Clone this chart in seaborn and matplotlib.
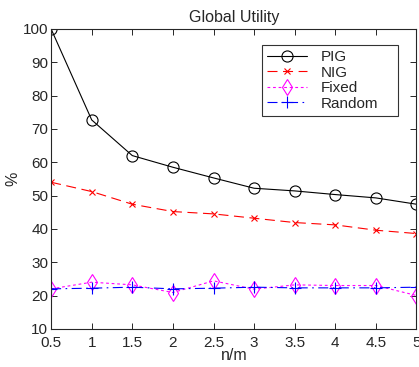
import matplotlib
matplotlib.use("Agg")
import matplotlib.pyplot as plt
import seaborn as sns
import pandas as pd

# data
n_over_m = [0.5, 1, 1.5, 2, 2.5, 3, 3.5, 4, 4.5, 5]
pig = [100, 72.7, 62.0, 58.5, 55.3, 52.2, 51.4, 50.3, 49.3, 47.4]
nig = [54.0, 51.2, 47.4, 45.2, 44.5, 43.2, 41.9, 41.2, 39.6, 38.6]
fixed = [22.0, 24.0, 23.2, 20.9, 24.4, 21.9, 23.2, 23.0, 23.0, 20.0]
random_ = [22.0, 22.2, 22.5, 22.0, 22.2, 22.5, 22.3, 22.3, 22.3, 22.5]

x_ticks = [0.5, 1, 1.5, 2, 2.5, 3, 3.5, 4, 4.5, 5]
x_tick_labels = ["0.5", "1", "1.5", "2", "2.5", "3", "3.5", "4", "4.5", "5"]
y_ticks = [10, 20, 30, 40, 50, 60, 70, 80, 90, 100]

sns.set_style("ticks")
plt.rcParams['font.family'] = ['Liberation Sans', 'DejaVu Sans']
plt.rcParams['xtick.direction'] = 'in'
plt.rcParams['ytick.direction'] = 'in'

fig = plt.figure(figsize=(4.19, 3.67), dpi=100)
ax = fig.add_axes([0.122, 0.104, 0.872, 0.817])

series = [
    ("PIG", pig, "black", "-", "o", 8),
    ("NIG", nig, "red", (0, (9, 5)), "x", 5),
    ("Fixed", fixed, "magenta", (0, (2.5, 2.5)), "d", 8),
    ("Random", random_, "blue", (0, (9, 4, 1.5, 4)), "+", 9),
]
for name, vals, color, ls, mk, ms in series:
    df = pd.DataFrame({"n/m": n_over_m, "val": vals})
    sns.lineplot(data=df, x="n/m", y="val", ax=ax, color=color, linestyle=ls,
                 marker=mk, markersize=ms, markerfacecolor="none",
                 markeredgecolor=color, markeredgewidth=0.8, linewidth=0.8,
                 label=name)

ax.set_xlim(0.5, 5)
ax.set_ylim(10, 100)
ax.set_xticks(x_ticks)
ax.set_xticklabels(x_tick_labels)
ax.set_yticks(y_ticks)
ax.tick_params(labelsize=11, top=True, right=True, length=4, width=0.7)
ax.tick_params(axis="x", pad=5)
ax.tick_params(axis="y", pad=2)
for s in ax.spines.values():
    s.set_linewidth(0.8)
ax.set_xlabel("n/m", fontsize=11.5, labelpad=-1)
ax.set_ylabel("%", fontsize=11.5, labelpad=2)
ax.set_title("Global Utility", fontsize=11.5, pad=5)

leg = ax.legend(loc="upper left", bbox_to_anchor=(0.5765, 0.70, 0.374, 0.247),
                mode="expand", fontsize=11,
                frameon=True, fancybox=False, edgecolor="black",
                borderpad=0.35, labelspacing=0.1, handlelength=2.6,
                handletextpad=0.9, borderaxespad=0)
leg.get_frame().set_linewidth(0.8)

fig.savefig("out.png", dpi=100)
